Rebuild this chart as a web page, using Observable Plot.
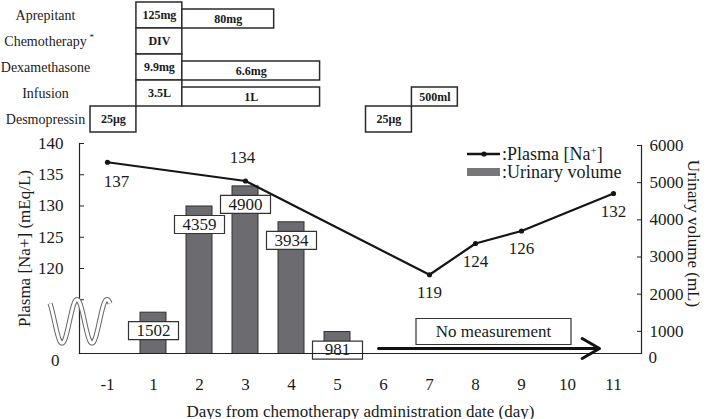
<!DOCTYPE html>
<html>
<head>
<meta charset="utf-8">
<script src="https://cdn.jsdelivr.net/npm/d3@7"></script>
<script src="https://cdn.jsdelivr.net/npm/@observablehq/plot@0.6"></script>
<style>
  body { margin: 0; background: #fff; }
  #figure { position: relative; width: 709px; height: 419px; overflow: hidden;
            font-family: "Liberation Serif", "DejaVu Serif", serif; color: #1a1a1a; }
  #figure svg { position: absolute; left: 0; }
  #figure svg, #figure svg text { font-family: "Liberation Serif", "DejaVu Serif", serif; }
</style>
</head>
<body>
<div id="figure"></div>
<script>
// Days from chemotherapy administration (there is no day 0)
const days = ["-1", "1", "2", "3", "4", "5", "6", "7", "8", "9", "10", "11"];

// Plasma sodium, mEq/L
const sodiumDays = ["-1", "3", "7", "8", "9", "11"];
const sodiumValues = [137, 134, 119, 124, 126, 132];

// Daily urinary volume, mL
const urineDays = ["1", "2", "3", "4", "5"];
const urineValues = [1502, 4359, 4900, 3934, 981];

// Axis ticks
const sodiumTicks = [115, 120, 125, 130, 135, 140];
const sodiumTickLabels = [120, 125, 130, 135, 140];
const urineTicks = [1000, 2000, 3000, 4000, 5000, 6000];

// Treatment schedule
const scheduleRows = ["Aprepitant", "Chemotherapy", "Dexamethasone", "Infusion", "Desmopressin"];
const doseDrug     = ["Aprepitant", "Aprepitant", "Chemotherapy", "Dexamethasone", "Dexamethasone", "Infusion", "Infusion", "Infusion", "Desmopressin", "Desmopressin"];
const doseFrom     = ["1", "2", "1", "1", "2", "1", "2", "7", "-1", "6"];
const doseTo       = ["1", "3", "1", "1", "4", "1", "4", "7", "-1", "6"];
const doseLabel    = ["125mg", "80mg", "DIV", "9.9mg", "6.6mg", "3.5L", "1L", "500ml", "25μg", "25μg"];
const doseFollowUp = [false, true, false, false, true, false, true, true, false, false];

// Period without measurements
const gapFrom = "6", gapTo = "11", gapLabel = "No measurement";

const font = "'Liberation Serif', 'DejaVu Serif', serif";
const ink = "#1a1a1a";

const sodium = sodiumDays.map((day, i) => ({day, value: sodiumValues[i]}));
const urine = urineDays.map((day, i) => ({day, value: urineValues[i]}));
const doses = doseDrug.map((drug, i) => ({
  drug,
  start: days.indexOf(doseFrom[i]),
  end: days.indexOf(doseTo[i]) + 1,
  label: doseLabel[i],
  followUp: doseFollowUp[i]
}));

// rectangle symbol used as a label background
const box = (w, h) => ({draw(ctx) { ctx.rect(-w / 2, -h / 2, w, h); }});

const fig = document.getElementById("figure");

// ---- schedule of drugs above the chart ----
const schedule = Plot.plot({
  width: 709, height: 135,
  marginTop: 1, marginBottom: 2, marginLeft: 0, marginRight: 0,
  style: {fontFamily: font, fontSize: "14px", color: ink, background: "transparent"},
  x: {type: "linear", domain: [0, days.length], range: [90, 641], axis: null},
  y: {type: "band", domain: scheduleRows, padding: 0, axis: null},
  marks: [
    Plot.barX(doses.filter(d => !d.followUp), {x1: "start", x2: "end", y: "drug", fill: "white", stroke: "#2a2a2a", strokeWidth: 1.5}),
    Plot.barX(doses.filter(d => d.followUp), {x1: "start", x2: "end", y: "drug", insetTop: 7, fill: "white", stroke: "#2a2a2a", strokeWidth: 1.5}),
    Plot.text(doses.filter(d => !d.followUp), {x: d => (d.start + d.end) / 2, y: "drug", text: "label", fontWeight: "bold", fontSize: 12}),
    Plot.text(doses.filter(d => d.followUp), {x: d => (d.start + d.end) / 2, y: "drug", text: "label", fontWeight: "bold", fontSize: 12, dy: 3.5}),
    Plot.text(scheduleRows, {y: d => d, text: d => d, frameAnchor: "left", dx: 45, textAnchor: "middle"}),
    Plot.text(["Chemotherapy"], {y: d => d, text: () => "*", frameAnchor: "left", dx: 89, dy: -4, fontSize: 9})
  ]
});
schedule.style.top = "0px";
fig.appendChild(schedule);

// ---- urinary volume bars (right axis) ----
const urinePlot = Plot.plot({
  width: 709, height: 284,
  marginTop: 10, marginBottom: 66, marginLeft: 79, marginRight: 68,
  style: {fontFamily: font, fontSize: "17px", color: ink, background: "transparent"},
  x: {type: "band", domain: days, padding: 0, axis: null},
  y: {domain: [0, 6000], range: [233, 10], axis: null},
  marks: [
    Plot.barY(urine, {x: "day", y: "value", fill: "#6c6c70", stroke: "#303030", strokeWidth: 1, insetLeft: 10, insetRight: 10, clip: true}),
    Plot.frame({anchor: "right", stroke: "#222", strokeWidth: 1.2}),
    Plot.axisY(urineTicks, {anchor: "right", tickSize: 5, dx: -5, tickFormat: () => "", label: null, stroke: "#222"}),
    Plot.axisY(urineTicks, {anchor: "right", tickSize: 0, tickPadding: 8, tickFormat: d3.format("d"), label: null}),
    Plot.text(["0"], {frameAnchor: "bottom-right", textAnchor: "start", dx: 7, dy: 9}),
    Plot.text(["Urinary volume (mL)"], {frameAnchor: "right", textAnchor: "middle", rotate: 90, dx: 52, dy: -16}),
    Plot.dot(urine, {x: "day", y: "value", dy: 18, symbol: box(50, 18), fill: "white", stroke: "#333", strokeWidth: 1.2}),
    Plot.text(urine, {x: "day", y: "value", dy: 18, text: d => String(d.value)})
  ]
});
urinePlot.style.top = "135px";
fig.appendChild(urinePlot);

// ---- plasma sodium line (left axis) ----
const yMin = 106.4;
const gap = [{from: gapFrom, to: gapTo, label: gapLabel}];
const sodiumPlot = Plot.plot({
  width: 709, height: 284,
  marginTop: 8, marginBottom: 66, marginLeft: 79, marginRight: 68,
  style: {fontFamily: font, fontSize: "17px", color: ink, background: "transparent"},
  x: {type: "band", domain: days, padding: 0},
  y: {domain: [yMin, 140]},
  marks: [
    Plot.frame({anchor: "left", stroke: "#222", strokeWidth: 1.2}),
    Plot.frame({anchor: "bottom", stroke: "#222", strokeWidth: 1.2}),
    Plot.axisX({tickSize: 0, tickPadding: 24, label: "Days from chemotherapy administration date (day)", labelAnchor: "center", labelArrow: "none"}),
    Plot.axisY(sodiumTicks, {anchor: "left", tickSize: 5, dx: 5, tickFormat: () => "", label: null, stroke: "#222"}),
    Plot.axisY(sodiumTickLabels, {anchor: "left", tickSize: 0, tickPadding: 16, label: "Plasma [Na+] (mEq/L)", labelAnchor: "center", labelOffset: 62, labelArrow: "none"}),
    Plot.text(["0"], {frameAnchor: "bottom-left", textAnchor: "end", dx: -20, dy: 12}),
    Plot.arrow(gap, {x1: "from", x2: "to", y1: () => yMin, y2: () => yMin, dy: -5, insetStart: -5, insetEnd: 14, headLength: 10, stroke: "#111", strokeWidth: 3}),
    Plot.dot(gap, {x: () => "8", y: () => yMin, dx: 18, dy: -22, symbol: box(155, 26), fill: "white", stroke: "#333", strokeWidth: 1.2}),
    Plot.text(gap, {x: () => "8", y: () => yMin, dx: 18, dy: -22, text: "label"}),
    Plot.line(sodium, {x: "day", y: "value", stroke: "#151515", strokeWidth: 2.2}),
    Plot.dot(sodium, {x: "day", y: "value", r: 2.6, fill: "#151515"}),
    Plot.text(sodium.filter(d => d.day === "-1"), {x: "day", y: "value", text: d => String(d.value), dx: 9, dy: 19}),
    Plot.text(sodium.filter(d => d.day !== "-1" && d.day !== "3"), {x: "day", y: "value", text: d => String(d.value), dy: 18}),
    Plot.text(sodium.filter(d => d.day === "3"), {x: "day", y: "value", text: d => String(d.value), dx: -3, dy: -23})
  ]
});
sodiumPlot.style.top = "135px";
fig.appendChild(sodiumPlot);

// axis break marker on the left axis (double wavy line)
{
  const y = sodiumPlot.scale("y");
  const cy = y.apply(115) + 22;
  const pts = d3.range(50, 111, 1).map(x => [x, cy + 22 * Math.cos(2 * Math.PI * (x - 62) / 30)]);
  const path = d3.line().curve(d3.curveBasis)(pts);
  const g = d3.select(sodiumPlot).append("g");
  g.append("path").attr("d", path).attr("fill", "none").attr("stroke", "#666").attr("stroke-width", 5);
  g.append("path").attr("d", path).attr("fill", "none").attr("stroke", "white").attr("stroke-width", 3);
}

// legend
{
  const svg = d3.select(fig).append("svg")
    .attr("width", 709).attr("height", 419)
    .style("top", "0px").style("pointer-events", "none")
    .style("font-size", "18px").style("fill", ink);
  svg.append("line").attr("x1", 467).attr("x2", 500).attr("y1", 154).attr("y2", 154)
    .attr("stroke", "#151515").attr("stroke-width", 2.5);
  svg.append("circle").attr("cx", 484).attr("cy", 154).attr("r", 2.6).attr("fill", "#151515");
  svg.append("text").attr("x", 502).attr("y", 160)
    .html(':Plasma [Na<tspan dy="-6" font-size="11">+</tspan><tspan dy="6">]</tspan>');
  svg.append("rect").attr("x", 467).attr("y", 168).attr("width", 33).attr("height", 8).attr("fill", "#77777a");
  svg.append("text").attr("x", 502).attr("y", 178).text(":Urinary volume");
}
</script>
</body>
</html>
